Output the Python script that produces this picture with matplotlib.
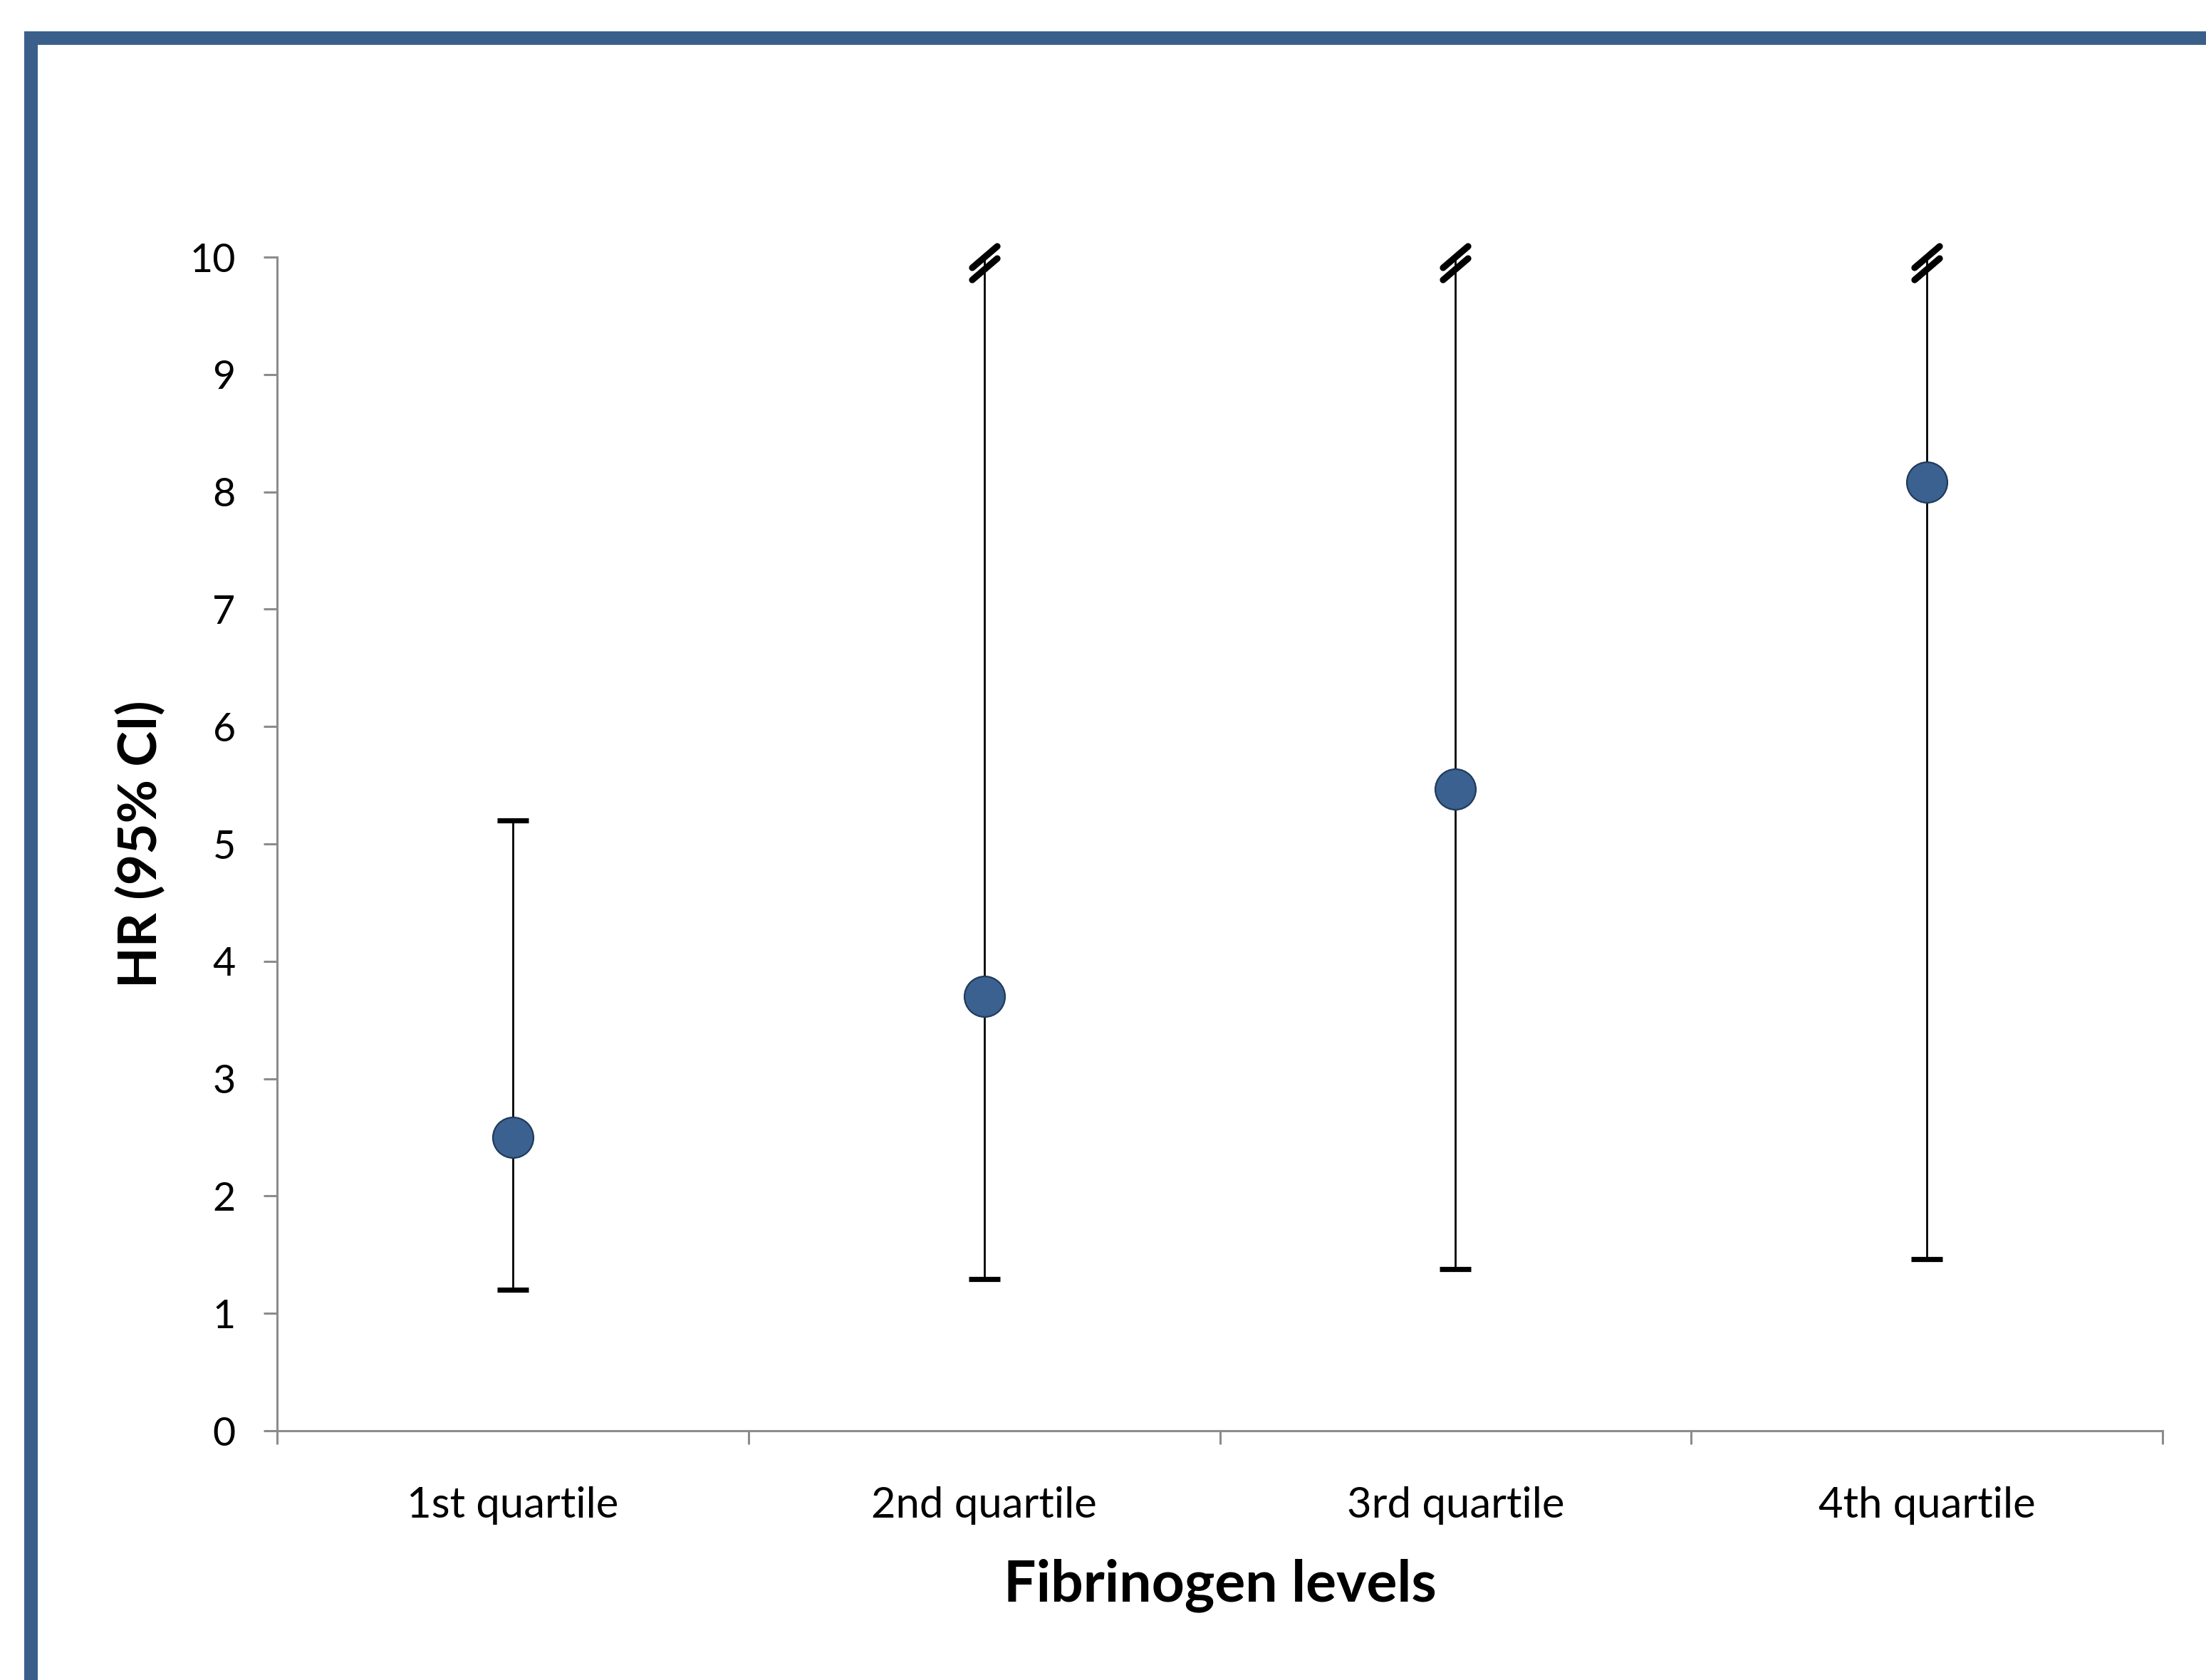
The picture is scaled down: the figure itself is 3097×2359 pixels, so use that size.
import numpy as np
import matplotlib.pyplot as plt
from matplotlib.path import Path
from matplotlib.markers import MarkerStyle
from matplotlib.patches import Rectangle

categories = ['1st quartile', '2nd quartile', '3rd quartile', '4th quartile']
hr = [2.5, 3.7, 5.47, 8.08]
ci_low = [1.2, 1.29, 1.38, 1.46]
ci_high = [5.2, 10, 10, 10]
truncated = [False, True, True, True]

plt.rcParams['font.family'] = ['Lato', 'DejaVu Sans']

W, H, DPI = 3097, 2359, 200
fig = plt.figure(figsize=(W / DPI, H / DPI), dpi=DPI)
ax = fig.add_axes([389 / W, 1 - 2009 / H, (3036 - 389) / W, (2009 - 361) / H])

x = np.arange(len(categories))
hr = np.array(hr)
ci_low = np.array(ci_low)
ci_high = np.array(ci_high)
truncated = np.array(truncated)

# whiskers
ax.vlines(x, ci_low, ci_high, color='black', lw=1.0, zorder=2)
# caps
ax.plot(x, ci_low, ls='none', marker='_', ms=15.5, mew=2.6, color='black', zorder=3)
ax.plot(x[~truncated], ci_high[~truncated], ls='none', marker='_', ms=15.5, mew=2.6,
        color='black', zorder=3)

# axis-break marker (double slash) on truncated upper limits
brk = Path([(-17.5, -6.5), (17.5, 23.5), (-17.5, -23.5), (17.5, 6.5)],
           [Path.MOVETO, Path.LINETO, Path.MOVETO, Path.LINETO])
ax.plot(x[truncated], ci_high[truncated] - 0.05, ls='none',
        marker=MarkerStyle(brk, capstyle='round'), ms=17, mew=3.3, color='black',
        zorder=4, clip_on=False)

# point estimates
ax.plot(x, hr, ls='none', marker='o', ms=20.5, mfc='#3A6190', mec='#213B5C', mew=0.8, zorder=5)

ax.set_xlim(-0.5, len(categories) - 0.5)
ax.set_ylim(0, 10)
ax.set_yticks(range(0, 11))
ax.set_xticks(np.arange(-0.5, len(categories), 1.0))
ax.set_xticklabels([])
ax.set_xticks(x, minor=True)
ax.set_xticklabels(categories, minor=True)

grey = '#8C8C8C'
for s in ['top', 'right']:
    ax.spines[s].set_visible(False)
for s in ['left', 'bottom']:
    ax.spines[s].set_color(grey)
    ax.spines[s].set_linewidth(1.1)
ax.tick_params(axis='both', which='major', color=grey, width=1.1, length=7,
               labelsize=20, direction='out')
ax.tick_params(axis='y', pad=14)
ax.tick_params(axis='x', which='minor', length=0, pad=28, labelsize=21.5)

ax.set_xlabel('Fibrinogen levels', fontsize=29, fontweight='bold', labelpad=17)
ax.set_ylabel('HR (95% CI)', fontsize=27, fontweight='bold', labelpad=12)

# outer frame
fig.add_artist(Rectangle((42.5 / W, -0.1), 2.0, 1 - 52.5 / H + 0.1,
                         transform=fig.transFigure, fill=False,
                         ec='#3A5F8A', lw=19 * 72 / DPI, joinstyle='miter'))

fig.savefig('out.png', dpi=DPI, facecolor='white')
